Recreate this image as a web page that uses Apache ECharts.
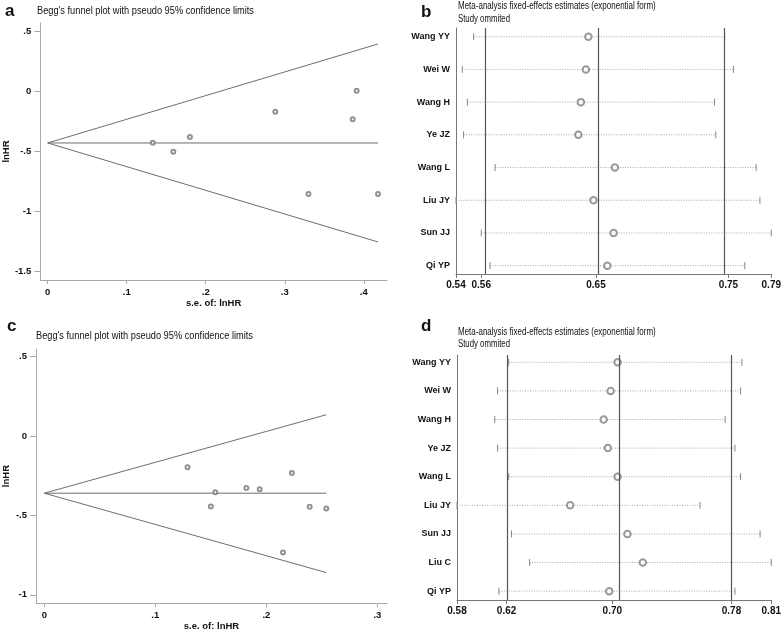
<!DOCTYPE html>
<html><head><meta charset="utf-8">
<script src="https://cdn.jsdelivr.net/npm/echarts@6/dist/echarts.min.js"></script>
<style>html,body{margin:0;padding:0;background:#fff}#main{width:784px;height:632px}</style>
</head><body><div id="main"></div>
<script>
// ---------- Panel a: Begg's funnel plot ----------
const aSE = [0.133, 0.180, 0.159, 0.288, 0.391, 0.386, 0.330, 0.418];
const aLnHR = [-0.431, -0.383, -0.506, -0.172, 0.003, -0.236, -0.858, -0.858];
const aPooledLine = [[0, -0.433], [0.418, -0.433]];
const aUpperLine = [[0, -0.433], [0.418, 0.392]];
const aLowerLine = [[0, -0.433], [0.418, -1.258]];
const aXTicks = [0, 0.1, 0.2, 0.3, 0.4];
const aXTickLabels = ['0', '.1', '.2', '.3', '.4'];
const aYTicks = [0.5, 0, -0.5, -1, -1.5];
const aYTickLabels = ['.5', '0', '-.5', '-1', '-1.5'];

// ---------- Panel c: Begg's funnel plot ----------
const cSE = [0.129, 0.154, 0.150, 0.182, 0.194, 0.223, 0.239, 0.254, 0.215];
const cLnHR = [-0.196, -0.354, -0.444, -0.327, -0.335, -0.233, -0.446, -0.456, -0.733];
const cPooledLine = [[0, -0.36], [0.254, -0.36]];
const cUpperLine = [[0, -0.36], [0.254, 0.134]];
const cLowerLine = [[0, -0.36], [0.254, -0.86]];
const cXTicks = [0, 0.1, 0.2, 0.3];
const cXTickLabels = ['0', '.1', '.2', '.3'];
const cYTicks = [0.5, 0, -0.5, -1];
const cYTickLabels = ['.5', '0', '-.5', '-1'];

// ---------- Panel b: influence analysis ----------
const bNames = ['Wang YY', 'Wei W', 'Wang H', 'Ye JZ', 'Wang L', 'Liu JY', 'Sun JJ', 'Qi YP'];
const bLower = [0.551, 0.542, 0.546, 0.543, 0.568, 0.537, 0.557, 0.564];
const bEst   = [0.642, 0.640, 0.636, 0.634, 0.663, 0.646, 0.662, 0.657];
const bUpper = [0.750, 0.757, 0.742, 0.743, 0.775, 0.778, 0.787, 0.766];
const bRefLines = [0.557, 0.648, 0.753];
const bXTicks = [0.537, 0.557, 0.648, 0.753, 0.787];
const bXTickLabels = ['0.54', '0.56', '0.65', '0.75', '0.79'];

// ---------- Panel d: influence analysis ----------
const dNames = ['Wang YY', 'Wei W', 'Wang H', 'Ye JZ', 'Wang L', 'Liu JY', 'Sun JJ', 'Liu C', 'Qi YP'];
const dLower = [0.621, 0.613, 0.611, 0.613, 0.621, 0.584, 0.623, 0.636, 0.614];
const dEst   = [0.699, 0.694, 0.689, 0.692, 0.699, 0.665, 0.706, 0.717, 0.693];
const dUpper = [0.788, 0.787, 0.776, 0.783, 0.787, 0.758, 0.801, 0.809, 0.783];
const dRefLines = [0.6195, 0.6952, 0.7805];
const dXTicks = [0.584, 0.6195, 0.6952, 0.7805, 0.809];
const dXTickLabels = ['0.58', '0.62', '0.70', '0.78', '0.81'];

const titleFunnel = "Begg's funnel plot with pseudo 95% confidence limits";
const titleForest1 = 'Meta-analysis fixed-effects estimates (exponential form)';
const titleForest2 = 'Study ommited';

const FONT = "'Liberation Sans', Arial, sans-serif";
const INK = '#111';

function lookup(ticks, labels) {
  return function (v) {
    let bi = 0, bd = Infinity;
    ticks.forEach((t, i) => { const d = Math.abs(t - v); if (d < bd) { bd = d; bi = i; } });
    return labels[bi];
  };
}

function funnelAxes(gi, xMin, xMax, yMin, yMax, xT, xL, yT, yL) {
  const axisLine = { show: true, onZero: false, lineStyle: { color: '#a8a8a8', width: 1 } };
  const nameStyle = { fontFamily: FONT, fontSize: 9.5, fontWeight: 'bold', color: INK };
  const labStyle = { fontFamily: FONT, fontSize: 9.5, fontWeight: 'bold', color: INK };
  const x = {
    type: 'value', gridIndex: gi, min: xMin, max: xMax,
    name: 's.e. of: lnHR', nameLocation: 'middle', nameGap: 17, nameTextStyle: nameStyle,
    axisLine: axisLine,
    axisTick: { show: true, length: 4, lineStyle: { color: '#a8a8a8' }, customValues: xT },
    axisLabel: Object.assign({ customValues: xT, formatter: lookup(xT, xL), margin: 7 }, labStyle),
    splitLine: { show: false }
  };
  const y = {
    type: 'value', gridIndex: gi, min: yMin, max: yMax,
    name: 'lnHR', nameLocation: 'middle', nameGap: 25, nameRotate: 90, nameTextStyle: nameStyle,
    axisLine: axisLine,
    axisTick: { show: true, length: 6, lineStyle: { color: '#a8a8a8' }, customValues: yT },
    axisLabel: Object.assign({ customValues: yT, formatter: lookup(yT, yL), margin: 9 }, labStyle),
    splitLine: { show: false }
  };
  return [x, y];
}

function forestAxes(gi, xT, xL, names, yMin, yMax) {
  const axisLine = { show: true, onZero: false, lineStyle: { color: '#777', width: 1 } };
  const rows = names.map((n, i) => i + 1);
  const x = {
    type: 'value', gridIndex: gi, min: xT[0], max: xT[xT.length - 1],
    axisLine: axisLine,
    axisTick: { show: true, length: 4, lineStyle: { color: '#777' }, customValues: xT },
    axisLabel: { customValues: xT, formatter: lookup(xT, xL), margin: 6,
      fontFamily: FONT, fontSize: 10, fontWeight: 'bold', color: INK },
    splitLine: { show: false }
  };
  const y = {
    type: 'value', gridIndex: gi, min: yMin, max: yMax, inverse: true,
    axisLine: axisLine,
    axisTick: { show: false },
    axisLabel: { customValues: rows, formatter: v => names[Math.round(v) - 1], margin: 6,
      fontFamily: FONT, fontSize: 9, fontWeight: 'bold', color: INK },
    splitLine: { show: false }
  };
  return [x, y];
}

function lineSeries(idx, data) {
  return { type: 'line', xAxisIndex: idx, yAxisIndex: idx, data: data, symbol: 'none',
    lineStyle: { color: '#6e6e6e', width: 1 }, silent: true, z: 2 };
}
function funnelPoints(idx, xs, ys) {
  return { type: 'scatter', xAxisIndex: idx, yAxisIndex: idx,
    data: xs.map((v, i) => [v, ys[i]]), symbol: 'emptyCircle', symbolSize: 4,
    itemStyle: { color: '#777', borderColor: '#777', borderWidth: 0.8 }, z: 3 };
}
function ciSeries(idx, lo, hi) {
  return {
    type: 'custom', xAxisIndex: idx, yAxisIndex: idx,
    data: lo.map((v, i) => [v, hi[i], i + 1]),
    encode: { x: [0, 1], y: 2 },
    renderItem: function (params, api) {
      const a = api.coord([api.value(0), api.value(2)]);
      const b = api.coord([api.value(1), api.value(2)]);
      return { type: 'group', children: [
        { type: 'line', shape: { x1: a[0], y1: a[1], x2: b[0], y2: b[1] },
          style: { stroke: '#a8a8a8', lineWidth: 1, lineDash: [1, 1.5] } },
        { type: 'line', shape: { x1: a[0], y1: a[1] - 3.5, x2: a[0], y2: a[1] + 3.5 },
          style: { stroke: '#888', lineWidth: 1 } },
        { type: 'line', shape: { x1: b[0], y1: b[1] - 3.5, x2: b[0], y2: b[1] + 3.5 },
          style: { stroke: '#888', lineWidth: 1 } }
      ] };
    }, z: 2
  };
}
function estSeries(idx, est, refs) {
  return {
    type: 'scatter', xAxisIndex: idx, yAxisIndex: idx,
    data: est.map((v, i) => [v, i + 1]), symbol: 'emptyCircle', symbolSize: 6.5,
    itemStyle: { color: '#808080', borderColor: '#808080', borderWidth: 0.8 }, z: 4,
    markLine: { silent: true, symbol: ['none', 'none'], label: { show: false },
      lineStyle: { color: '#555', type: 'solid', width: 1.2 },
      data: refs.map(v => ({ xAxis: v })) }
  };
}

const fa = funnelAxes(0, -0.0094, 0.4294, -1.575, 0.567, aXTicks, aXTickLabels, aYTicks, aYTickLabels);
const fb = forestAxes(1, bXTicks, bXTickLabels, bNames, 0.734, 8.254);
const fc = funnelAxes(2, -0.0075, 0.3087, -1.052, 0.548, cXTicks, cXTickLabels, cYTicks, cYTickLabels);
const fd = forestAxes(3, dXTicks, dXTickLabels, dNames, 0.745, 9.31);

function txt(text, x, y, size, weight, sx) {
  return { type: 'text', x: x, y: y, scaleX: sx || 1, silent: true,
    style: { text: text, fill: INK, font: weight + ' ' + size + 'px ' + FONT,
      align: 'left', verticalAlign: 'middle',
      textAlign: 'left', textVerticalAlign: 'middle' } };
}

const option = {
  animation: false,
  backgroundColor: '#fff',
  grid: [
    { left: 36, top: 23, width: 351, height: 257 },
    { left: 456, top: 28, width: 317, height: 246 },
    { left: 36, top: 349, width: 351, height: 256 },
    { left: 457, top: 355, width: 316, height: 245 }
  ],
  xAxis: [fa[0], fb[0], fc[0], fd[0]],
  yAxis: [fa[1], fb[1], fc[1], fd[1]],
  series: [
    lineSeries(0, aUpperLine), lineSeries(0, aLowerLine), lineSeries(0, aPooledLine),
    funnelPoints(0, aSE, aLnHR),
    ciSeries(1, bLower, bUpper), estSeries(1, bEst, bRefLines),
    lineSeries(2, cUpperLine), lineSeries(2, cLowerLine), lineSeries(2, cPooledLine),
    funnelPoints(2, cSE, cLnHR),
    ciSeries(3, dLower, dUpper), estSeries(3, dEst, dRefLines)
  ],
  graphic: [
    txt('a', 5, 11, 17, 'bold'),
    txt(titleFunnel, 37, 10.5, 11, 'normal', 0.84),
    txt('b', 421, 12, 17, 'bold'),
    txt(titleForest1, 458, 6.5, 10, 'normal', 0.8),
    txt(titleForest2, 458, 19, 10, 'normal', 0.78),
    txt('c', 7, 326, 17, 'bold'),
    txt(titleFunnel, 36, 335.5, 11, 'normal', 0.84),
    txt('d', 421, 326, 17, 'bold'),
    txt(titleForest1, 458, 332, 10, 'normal', 0.8),
    txt(titleForest2, 458, 344, 10, 'normal', 0.78)
  ]
};

const chart = echarts.init(document.getElementById('main'), null, { renderer: 'canvas' });
chart.setOption(option);
</script>
</body></html>
